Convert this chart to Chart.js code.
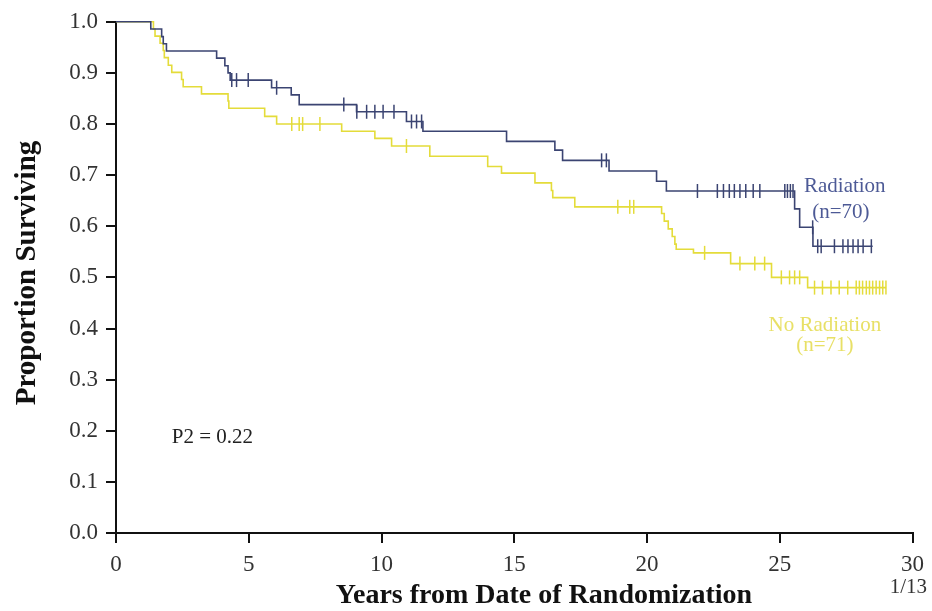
<!DOCTYPE html>
<html>
<head>
<meta charset="utf-8">
<script src="https://cdn.jsdelivr.net/npm/chart.js@4.4.1/dist/chart.umd.min.js"></script>
<style>
  html, body { margin: 0; padding: 0; background: #fff; }
  #wrap { width: 932px; height: 611px; }
</style>
</head>
<body>
<div id="wrap"><canvas id="chart" width="932" height="611"></canvas></div>
<script>
// Kaplan-Meier curves (years, proportion surviving)
const radTimes = [0, 1.31, 1.72, 1.78, 1.9, 3.79, 4.1, 4.22, 4.3, 5.86, 6.6, 6.9, 9.06, 10.94, 11.56, 14.71, 16.53, 16.82, 18.57, 20.36, 20.73, 25.56, 25.75, 26.25, 28.5];
const radSurv  = [1.0, 0.986, 0.971, 0.957, 0.943, 0.929, 0.914, 0.900, 0.886, 0.871, 0.857, 0.838, 0.824, 0.805, 0.786, 0.766, 0.749, 0.729, 0.708, 0.688, 0.669, 0.634, 0.598, 0.561, 0.561];
const radCensor = [4.36, 4.54, 4.98, 6.05, 8.58, 9.07, 9.44, 9.75, 10.06, 10.47, 11.13, 11.32, 11.51, 18.29, 18.47,
  21.9, 22.65, 22.88, 23.1, 23.29, 23.5, 23.72, 24.0, 24.25, 25.19, 25.29, 25.4, 25.5,
  26.24, 26.43, 26.56, 27.06, 27.38, 27.57, 27.76, 27.95, 28.14, 28.45];

const noRadTimes = [0, 1.41, 1.47, 1.66, 1.78, 1.82, 1.97, 2.1, 2.47, 2.53, 3.22, 4.22, 4.25, 5.6, 6.05, 8.5, 9.75, 10.38, 11.82, 14.0, 14.52, 15.78, 16.4, 16.45, 17.28, 20.55, 20.65, 20.8, 20.95, 21.05, 21.1, 21.75, 23.15, 24.69, 26.05, 29.0];
const noRadSurv  = [1.0, 0.986, 0.972, 0.958, 0.944, 0.930, 0.915, 0.901, 0.887, 0.873, 0.859, 0.845, 0.831, 0.815, 0.800, 0.786, 0.772, 0.757, 0.737, 0.717, 0.704, 0.685, 0.670, 0.656, 0.638, 0.625, 0.610, 0.595, 0.580, 0.565, 0.555, 0.548, 0.527, 0.500, 0.480, 0.480];
const noRadCensor = [6.62, 6.9, 7.03, 7.68, 10.94, 18.9, 19.35, 19.5, 22.17, 23.5, 24.06, 24.43,
  25.06, 25.37, 25.56, 25.75, 26.31, 26.61, 26.93, 27.24, 27.56, 27.88, 28.0, 28.12, 28.26, 28.38, 28.5, 28.63, 28.76, 28.88, 29.0];

const xTicks = [0, 5, 10, 15, 20, 25, 30];
const yTicks = [0, 0.1, 0.2, 0.3, 0.4, 0.5, 0.6, 0.7, 0.8, 0.9, 1.0];

const BLUE = '#3b4472';
const YELLOW = '#e4dc3a';
const SERIF = '"Liberation Serif", "Times New Roman", serif';

// 打ち切り点の高さは曲線から引く
function survAt(times, surv, t) {
  let s = surv[0];
  for (let i = 0; i < times.length; i++) { if (times[i] <= t) s = surv[i]; }
  return s;
}
const toPts = (times, surv) => times.map((t, i) => ({ x: t, y: surv[i] }));
const censorPts = (ct, times, surv) => ct.map(t => ({ x: t, y: survAt(times, surv, t) }));

// テキスト（注記・軸タイトル）
const textPlugin = {
  id: 'texts',
  afterDraw(chart) {
    const { ctx, scales: { x, y } } = chart;
    ctx.save();
    ctx.textBaseline = 'middle';
    ctx.textAlign = 'left';
    ctx.fillStyle = '#222';
    ctx.font = '21px ' + SERIF;
    ctx.fillText('P2 = 0.22', x.getPixelForValue(2.1), y.getPixelForValue(0.187));

    ctx.textAlign = 'center';
    ctx.fillStyle = '#4d5a96';
    ctx.fillText('Radiation', x.getPixelForValue(27.45), y.getPixelForValue(0.678));
    ctx.fillText('(n=70)', x.getPixelForValue(27.3), y.getPixelForValue(0.627));
    ctx.fillStyle = '#e8e066';
    ctx.fillText('No Radiation', x.getPixelForValue(26.7), y.getPixelForValue(0.405));
    ctx.fillText('(n=71)', x.getPixelForValue(26.7), y.getPixelForValue(0.366));

    ctx.fillStyle = '#333';
    ctx.textAlign = 'right';
    ctx.fillText('1/13', 927, 587);

    ctx.fillStyle = '#111';
    ctx.textAlign = 'center';
    ctx.font = 'bold 28px ' + SERIF;
    ctx.fillText('Years from Date of Randomization', 544, 596);

    ctx.translate(28, 273);
    ctx.rotate(-Math.PI / 2);
    ctx.font = 'bold 29px ' + SERIF;
    ctx.fillText('Proportion Surviving', 0, 0);
    ctx.restore();
  }
};

const canvas = document.getElementById('chart');
const chart = new Chart(canvas.getContext('2d'), {
  type: 'line',
  data: {
    datasets: [
      { label: 'Radiation', data: toPts(radTimes, radSurv), stepped: 'before', borderColor: BLUE, borderWidth: 1.6, pointRadius: 0, fill: false, clip: false },
      { label: 'No Radiation', data: toPts(noRadTimes, noRadSurv), stepped: 'before', borderColor: YELLOW, borderWidth: 1.6, pointRadius: 0, fill: false, clip: false },
      { type: 'scatter', label: 'rad censored', data: censorPts(radCensor, radTimes, radSurv), showLine: false, pointStyle: 'line', rotation: 90, radius: 7, borderColor: BLUE, borderWidth: 1.5, clip: false },
      { type: 'scatter', label: 'norad censored', data: censorPts(noRadCensor, noRadTimes, noRadSurv), showLine: false, pointStyle: 'line', rotation: 90, radius: 7, borderColor: YELLOW, borderWidth: 1.5, clip: false }
    ]
  },
  options: {
    responsive: false, animation: false, parsing: false,
    layout: { padding: { top: 20, right: 19, left: 0, bottom: 0 } },
    plugins: { legend: { display: false }, tooltip: { enabled: false } },
    scales: {
      x: {
        type: 'linear', min: 0, max: 30,
        afterBuildTicks: s => { s.ticks = xTicks.map(v => ({ value: v })); },
        afterFit: s => { s.height = 78; },
        ticks: { font: { family: SERIF, size: 23 }, color: '#333', padding: 8, maxRotation: 0 },
        grid: { drawOnChartArea: false, drawTicks: true, tickLength: 10, color: '#111', lineWidth: 2 },
        border: { color: '#111', width: 2 }
      },
      y: {
        type: 'linear', min: 0, max: 1,
        afterBuildTicks: s => { s.ticks = yTicks.map(v => ({ value: v })); },
        afterFit: s => { s.width = 116; },
        ticks: { font: { family: SERIF, size: 23 }, color: '#333', padding: 8, callback: v => Number(v).toFixed(1) },
        grid: { drawOnChartArea: false, drawTicks: true, tickLength: 10, color: '#111', lineWidth: 2 },
        border: { color: '#111', width: 2 }
      }
    }
  },
  plugins: [textPlugin]
});
</script>
</body>
</html>
